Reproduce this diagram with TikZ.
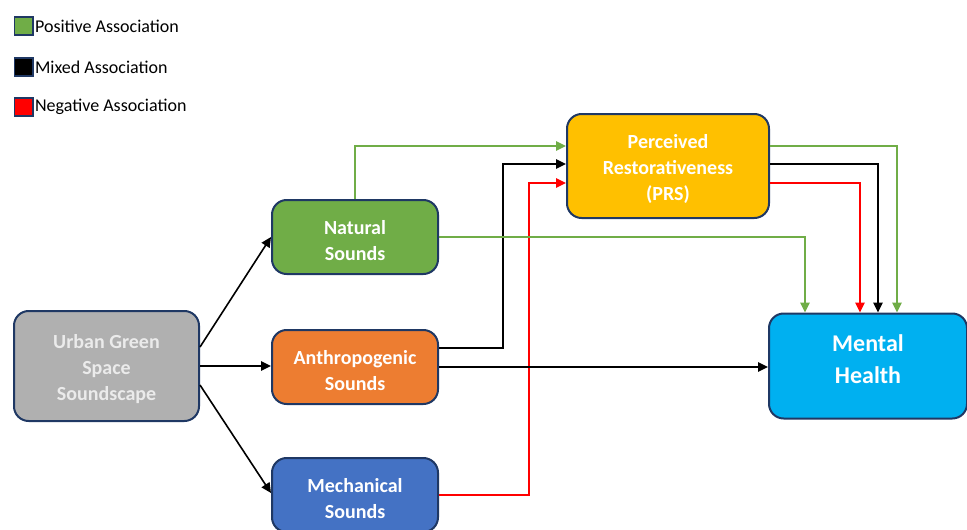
\documentclass[tikz,border=0pt]{standalone}
\usepackage{fontspec}
\setmainfont{Carlito}
\usetikzlibrary{arrows.meta,calc}
\definecolor{navy}{HTML}{1F3864}
\definecolor{posgreen}{HTML}{70AD47}
\definecolor{negred}{HTML}{FF0000}
\definecolor{urbgray}{HTML}{B0B0B0}
\definecolor{anthorange}{HTML}{ED7D31}
\definecolor{mechblue}{HTML}{4472C4}
\definecolor{prsyellow}{HTML}{FFC000}
\definecolor{mhblue}{HTML}{00B0F0}
\newcommand{\boxstrut}{\rule{0pt}{15.5pt}}

\tikzset{
  box/.style={draw=navy, line width=1.5pt, rounded corners=11pt, align=center,
    text=white, inner sep=0pt, minimum width=124.5pt, minimum height=55.5pt,
    font=\fontsize{15}{19.5}\selectfont\bfseries},
  legbox/.style={draw=navy, line width=1pt, minimum width=14pt, minimum height=13.5pt, inner sep=0pt},
  legtext/.style={right, inner sep=1pt, font=\fontsize{13.5}{16}\selectfont},
  link/.style={line width=1.2pt, -{Triangle[length=7.5pt,width=7pt]}}
}

\begin{document}
\begin{tikzpicture}[x=0.75pt,y=-0.75pt]
        \useasboundingbox (0,0) rectangle (967,529);
        \node[legbox, fill=posgreen] (lpos) at (23.5,26) {};
        \node[legtext] at (lpos.east) {Positive Association};
        \node[legbox, fill=black] (lmix) at (23.5,67) {};
        \node[legtext] at (lmix.east) {Mixed Association};
        \node[legbox, fill=negred] (lneg) at (23.5,107) {};
        \node[legtext] at (lneg.east) {Negative Association};

        \node[box, fill=urbgray, text=white!92!black, minimum width=138.75pt, minimum height=82.5pt] (urb) at (106.5,366) {\boxstrut Urban Green\\Space\\Soundscape};
        \node[box, fill=posgreen] (nat) at (355,237) {\boxstrut Natural\\Sounds};
        \node[box, fill=anthorange] (anth) at (355,367) {\boxstrut Anthropogenic\\Sounds};
        \node[box, fill=mechblue] (mech) at (355,495) {\boxstrut Mechanical\\Sounds};
        \node[box, fill=prsyellow, minimum width=151.5pt, minimum height=78pt] (prs) at (668,166) {\boxstrut Perceived\\Restorativeness\\(PRS)};
        \node[box, fill=mhblue, minimum width=148.5pt, minimum height=78.75pt, font=\fontsize{18}{24}\selectfont\bfseries] (mh) at (868,366) {Mental\\Health\rule[-10.5pt]{0pt}{0pt}};

        \draw[link] ($(urb.east)+(0,-19)$) -- (nat.west);
        \draw[link] (urb.east) -- (urb.east -| anth.west);
        \draw[link] ($(urb.east)+(0,19)$) -- ($(mech.west)+(0,-2)$);

        \draw[link, posgreen] (nat.north) |- ($(prs.west)+(0,-20)$);
        \draw[link] ($(anth.east)+(0,-19)$) -- ++(64,0) |- ($(prs.west)+(0,-2)$);
        \draw[link, negred] (mech.east) -- ++(90,0) |- ($(prs.west)+(0,17)$);

        \draw[link, posgreen] (nat.east) -| ($(mh.north west)+(37,0)$);
        \draw[link] (anth.east) -- (anth.east -| mh.west);
        \draw[link, negred] ($(prs.east)+(0,17)$) -| ($(mh.north west)+(92,0)$);
        \draw[link] ($(prs.east)+(0,-2)$) -| ($(mh.north west)+(110,0)$);
        \draw[link, posgreen] ($(prs.east)+(0,-20)$) -| ($(mh.north west)+(129,0)$);
\end{tikzpicture}
\end{document}
